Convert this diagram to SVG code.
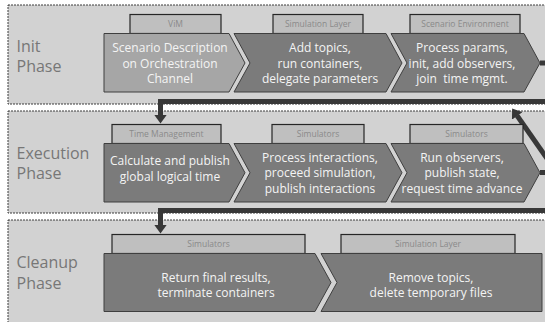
<svg xmlns="http://www.w3.org/2000/svg" width="545" height="322" viewBox="0 0 545 322">
<style>
.phase{fill:#d2d2d2;stroke:#3c3c3c;stroke-width:1;stroke-dasharray:2,1}
.ptxt{font-family:"Open Sans","Liberation Sans",sans-serif;font-size:16px;fill:#777}
.lbl{fill:#bfbfbf;stroke:#262626;stroke-width:1.2}
.ltxt{font-family:"Open Sans","Liberation Sans",sans-serif;font-size:8.5px;fill:#8a8a8a;text-anchor:middle}
.chev{fill:#7b7b7b;stroke:#3f3f3f;stroke-width:1}
.chev1{fill:#a6a6a6;stroke:#3f3f3f;stroke-width:1}
.ctxt{font-family:"Open Sans","Liberation Sans",sans-serif;font-size:12px;fill:#f4f4f4;text-anchor:middle}
.conn{fill:none;stroke:#383838;stroke-width:5}
</style>
<defs>
<marker id="ah" markerUnits="userSpaceOnUse" viewBox="0 0 9 13" markerWidth="9" markerHeight="13" refX="0.5" refY="6.5" orient="auto">
<path d="M0,0 L9,6.5 L0,13 z" fill="#383838"/>
</marker>
</defs>
<rect width="545" height="322" fill="#fff"/>
<g id="init-phase">
<rect class="phase" x="8" y="5" width="560" height="99"/>
<text class="ptxt" x="16.5" y="51.5">Init</text>
<text class="ptxt" x="16.5" y="71.5">Phase</text>
</g>
<g id="execution-phase">
<rect class="phase" x="8" y="111" width="560" height="102"/>
<text class="ptxt" x="16.5" y="158.5">Execution</text>
<text class="ptxt" x="16.5" y="179">Phase</text>
</g>
<g id="cleanup-phase">
<rect class="phase" x="8" y="220" width="560" height="120"/>
<text class="ptxt" x="16.5" y="267.5">Cleanup</text>
<text class="ptxt" x="16.5" y="289">Phase</text>
</g>
<g id="connectors">
<path class="conn" d="M540,63 H560 V101.5 H160.5 V115" marker-end="url(#ah)"/>
<path class="conn" d="M540,172.5 H560 V210.5 H160.5 V225" marker-end="url(#ah)"/>
<path class="conn" d="M562,180 L517,115.5" marker-end="url(#ah)"/>
</g>
<g id="scenario-description">
<rect class="lbl" x="130" y="14.5" width="91" height="19"/>
<text class="ltxt" x="175.5" y="27">ViM</text>
<path class="chev1" d="M104,33.5 H229 L245,63 L229,92 H104 Z"/>
<text class="ctxt" x="170" y="52">Scenario Description</text>
<text class="ctxt" x="170" y="67.5">on Orchestration</text>
<text class="ctxt" x="170" y="83">Channel</text>
</g>
<g id="add-topics">
<rect class="lbl" x="273" y="14.5" width="90" height="19"/>
<text class="ltxt" x="318" y="27">Simulation Layer</text>
<path class="chev" d="M234,33.5 H386 L402,63 L386,92 H234 L250,63 Z"/>
<text class="ctxt" x="320" y="52">Add topics,</text>
<text class="ctxt" x="320" y="67.5">run containers,</text>
<text class="ctxt" x="320" y="83">delegate parameters</text>
</g>
<g id="process-params">
<rect class="lbl" x="410" y="14.5" width="110" height="19"/>
<text class="ltxt" x="465" y="27">Scenario Environment</text>
<path class="chev" d="M391,33.5 H524 L540,63 L524,92 H391 L407,63 Z"/>
<text class="ctxt" x="462" y="52">Process params,</text>
<text class="ctxt" x="462" y="67.5">init, add observers,</text>
<text class="ctxt" x="462" y="83" xml:space="preserve">join  time mgmt.</text>
</g>
<g id="calculate-time">
<rect class="lbl" x="112" y="124.5" width="109" height="19"/>
<text class="ltxt" x="166.5" y="137">Time Management</text>
<path class="chev" d="M104,143.5 H229 L245,172.75 L229,202 H104 Z"/>
<text class="ctxt" x="170" y="165">Calculate and publish</text>
<text class="ctxt" x="170" y="180.5">global logical time</text>
</g>
<g id="process-interactions">
<rect class="lbl" x="272" y="124.5" width="92" height="19"/>
<text class="ltxt" x="318" y="137">Simulators</text>
<path class="chev" d="M234,143.5 H386 L402,172.75 L386,202 H234 L250,172.75 Z"/>
<text class="ctxt" x="320" y="161.75">Process interactions,</text>
<text class="ctxt" x="320" y="177.25">proceed simulation,</text>
<text class="ctxt" x="320" y="192.75">publish interactions</text>
</g>
<g id="run-observers">
<rect class="lbl" x="410" y="124.5" width="113" height="19"/>
<text class="ltxt" x="466.5" y="137">Simulators</text>
<path class="chev" d="M391,143.5 H524 L540,172.75 L524,202 H391 L407,172.75 Z"/>
<text class="ctxt" x="462" y="161.75">Run observers,</text>
<text class="ctxt" x="462" y="177.25">publish state,</text>
<text class="ctxt" x="462" y="192.75">request time advance</text>
</g>
<g id="return-results">
<rect class="lbl" x="112" y="234.5" width="193" height="19"/>
<text class="ltxt" x="208.5" y="247">Simulators</text>
<path class="chev" d="M104,253.5 H315 L331,282.5 L315,311.5 H104 Z"/>
<text class="ctxt" x="216" y="281.5">Return final results,</text>
<text class="ctxt" x="216" y="297">terminate containers</text>
</g>
<g id="remove-topics">
<rect class="lbl" x="341" y="234.5" width="174" height="19"/>
<text class="ltxt" x="428" y="247">Simulation Layer</text>
<path class="chev" d="M321,253.5 H542 V311.5 H321 L337,282.5 Z"/>
<text class="ctxt" x="431" y="281.5">Remove topics,</text>
<text class="ctxt" x="431" y="297">delete temporary files</text>
</g>
</svg>
